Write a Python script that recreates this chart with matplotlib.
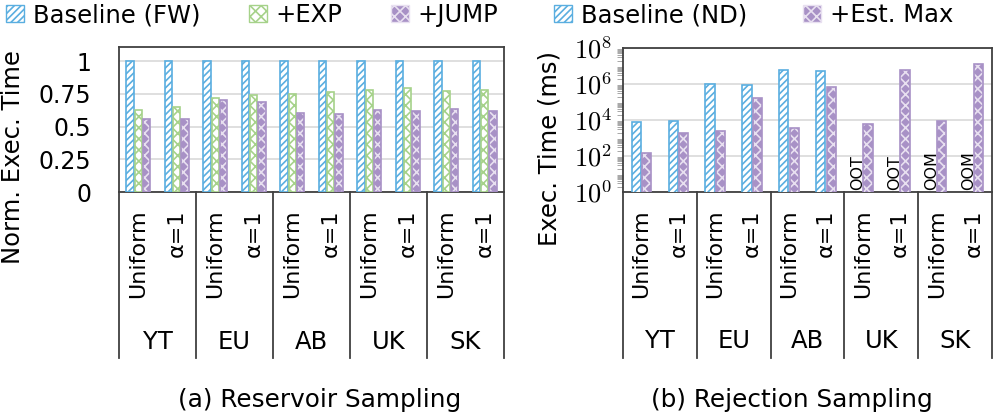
import matplotlib
matplotlib.use("Agg")
import matplotlib.pyplot as plt
import matplotlib.transforms as mtrans
from matplotlib.patches import Patch
from matplotlib.ticker import LogLocator, FixedLocator, NullFormatter
import numpy as np

plt.rcParams['font.family'] = ['DejaVu Sans']
plt.rcParams['mathtext.fontset'] = 'cm'
plt.rcParams['hatch.linewidth'] = 1.2

# data
groups = ["YT", "EU", "AB", "UK", "SK"]
dists = ["Uniform", "α=1"]

# (a) reservoir sampling, normalised exec. time
res_baseline = [1, 1, 1, 1, 1, 1, 1, 1, 1, 1]
res_exp = [0.628, 0.648, 0.719, 0.740, 0.750, 0.765, 0.776, 0.791, 0.769, 0.779]
res_jump = [0.556, 0.556, 0.702, 0.686, 0.600, 0.594, 0.625, 0.617, 0.631, 0.618]

# (b) rejection sampling, exec. time in ms (None = failed run)
rej_baseline = [7.9e3, 8.5e3, 1.0e6, 8.6e5, 6.0e6, 5.3e6, None, None, None, None]
rej_fail = ["", "", "", "", "", "", "OOT", "OOT", "OOM", "OOM"]
rej_est = [141, 2.0e3, 2.3e3, 1.7e5, 3.5e3, 6.6e5, 6.3e3, 6.0e6, 8.9e3, 1.3e7]

BLUE = "#5aaee0"
GREEN = "#a6d28a"
PURPLE = "#a891c6"
SPINE = "#404040"
FS = 16

fig = plt.figure(figsize=(9.96, 4.19), dpi=100)
axL = fig.add_axes([119/996, 1-192/419, 385/996, 145/419])
axR = fig.add_axes([623/996, 1-192/419, 369/996, 144/419])

x = np.arange(len(groups) * len(dists))


def draw_bar(ax, xs, hs, w, color, hatch, fill=False):
    xs2 = [a for a, h in zip(xs, hs) if h is not None]
    hs2 = [h for h in hs if h is not None]
    if fill:
        ax.bar(xs2, hs2, w, color=color, edgecolor="#e8e0f0", hatch=hatch,
               linewidth=0, zorder=3)
        ax.bar(xs2, hs2, w, fill=False, edgecolor=color, linewidth=1.2, zorder=4)
    else:
        ax.bar(xs2, hs2, w, color="white", edgecolor=color, hatch=hatch,
               linewidth=1.2, zorder=3)


# left
bw = 0.19
draw_bar(axL, x - 0.215, res_baseline, bw, BLUE, "/////")
draw_bar(axL, x, res_exp, bw, GREEN, "xxx")
draw_bar(axL, x + 0.215, res_jump, bw, PURPLE, "xxx", fill=True)
axL.set_ylim(0, 1.107)
axL.set_yticks([0, 0.25, 0.5, 0.75, 1])
axL.set_yticklabels(["0", "0.25", "0.5", "0.75", "1"])
axL.tick_params(axis="y", length=0, pad=20, labelsize=FS + 1)

# right
bw = 0.25
draw_bar(axR, x - 0.14, rej_baseline, bw, BLUE, "/////")
draw_bar(axR, x + 0.14, rej_est, bw, PURPLE, "xxx", fill=True)
axR.set_yscale("log")
axR.set_ylim(1, 1e8)
axR.yaxis.set_major_locator(FixedLocator([1, 1e2, 1e4, 1e6, 1e8]))
axR.set_yticklabels([r"$10^{0}$", r"$10^{2}$", r"$10^{4}$", r"$10^{6}$", r"$10^{8}$"])
axR.yaxis.set_minor_locator(LogLocator(base=10, subs=np.arange(2, 10), numticks=20))
axR.yaxis.set_minor_formatter(NullFormatter())
axR.tick_params(axis="y", which="major", length=0, pad=8, labelsize=19)
axR.tick_params(axis="y", which="minor", length=4, width=0.6, color="#999999")
trR = mtrans.blended_transform_factory(axR.transData, axR.transAxes)
for xi, lab in zip(x, rej_fail):
    if lab:
        axR.text(xi - 0.14, 0.015, lab, transform=trR, rotation=90,
                 ha="center", va="bottom", fontsize=11.5)

for ax, depth in [(axL, -166/145), (axR, -166/144)]:
    ax.set_xlim(-0.5, 9.5)
    ax.set_xticks([])
    ax.yaxis.grid(True, color="#d9d9d9", linewidth=1.2, zorder=0)
    ax.set_axisbelow(True)
    for s in ax.spines.values():
        s.set_color(SPINE)
        s.set_linewidth(1.3)
    tr = mtrans.blended_transform_factory(ax.transData, ax.transAxes)
    for b in np.arange(-0.5, 10, 2):
        ax.plot([b, b], [0, depth], transform=tr, color=SPINE, lw=1.3,
                clip_on=False)
    for i, xi in enumerate(x):
        ax.text(xi, -0.12, dists[i % 2], transform=tr, rotation=90,
                ha="center", va="top", fontsize=FS)
    for g, name in enumerate(groups):
        ax.text(2 * g + 0.5, -1.034, name, transform=tr, ha="center",
                va="center", fontsize=FS + 1.5)

fig.text(13/996, 1-157/419, "Norm. Exec. Time", rotation=90, ha="center",
         va="center", fontsize=FS + 1.5)
fig.text(550/996, 1-148/419, "Exec. Time (ms)", rotation=90, ha="center",
         va="center", fontsize=FS + 1.5)
fig.text(320/996, 1-400/419, "(a) Reservoir Sampling", ha="center",
         va="center", fontsize=FS + 1.8)
fig.text(792/996, 1-400/419, "(b) Rejection Sampling", ha="center",
         va="center", fontsize=FS + 1.8)

hL = [Patch(facecolor="white", edgecolor=BLUE, hatch="/////"),
      Patch(facecolor="white", edgecolor=GREEN, hatch="xxx"),
      Patch(facecolor=PURPLE, edgecolor="#e8e0f0", hatch="xxx")]
fig.legend(hL, ["Baseline (FW)", "+EXP", "+JUMP"], loc="center left",
           bbox_to_anchor=(6/996, 1-15/419), ncol=3, frameon=False,
           handlelength=0.75, handleheight=0.75, handletextpad=0.35,
           columnspacing=2.0, borderpad=0, borderaxespad=0, fontsize=FS + 1.5)
hR = [Patch(facecolor="white", edgecolor=BLUE, hatch="/////"),
      Patch(facecolor=PURPLE, edgecolor="#e8e0f0", hatch="xxx")]
fig.legend(hR, ["Baseline (ND)", "+Est. Max"], loc="center left",
           bbox_to_anchor=(554/996, 1-15/419), ncol=2, frameon=False,
           handlelength=0.75, handleheight=0.75, handletextpad=0.35,
           columnspacing=2.3, borderpad=0, borderaxespad=0, fontsize=FS + 1.5)

fig.savefig("out.png", dpi=100)
